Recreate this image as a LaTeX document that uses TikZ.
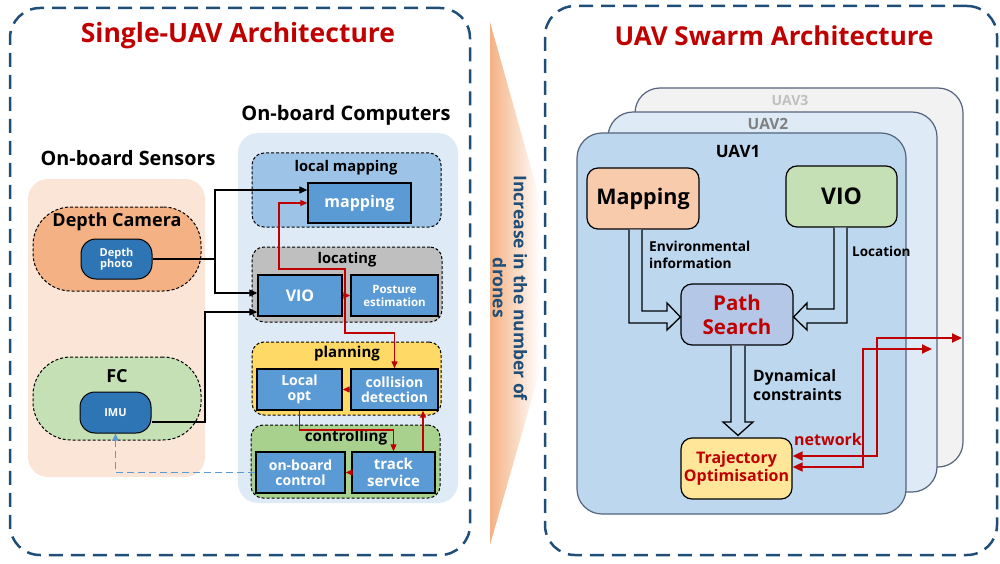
\documentclass[tikz,border=0pt]{standalone}
\usepackage{fontspec}
\setmainfont{Open Sans}
\usetikzlibrary{arrows.meta}
\definecolor{frameblue}{RGB}{31,78,121}
\definecolor{titlered}{RGB}{192,0,0}
\definecolor{peach}{RGB}{251,229,214}
\definecolor{orangef}{RGB}{244,177,131}
\definecolor{pillblue}{RGB}{46,117,182}
\definecolor{fcgreen}{RGB}{197,224,180}
\definecolor{comppanel}{RGB}{222,235,247}
\definecolor{lmapblue}{RGB}{157,195,230}
\definecolor{boxblue}{RGB}{91,155,213}
\definecolor{locgray}{RGB}{191,191,191}
\definecolor{planyellow}{RGB}{255,217,102}
\definecolor{ctrlgreen}{RGB}{169,209,142}
\definecolor{uavthree}{RGB}{242,242,242}
\definecolor{uavtwo}{RGB}{222,235,247}
\definecolor{uavone}{RGB}{189,215,238}
\definecolor{uavborder}{RGB}{84,100,125}
\definecolor{mapfill}{RGB}{248,203,173}
\definecolor{pathfill}{RGB}{180,199,231}
\definecolor{trajfill}{RGB}{255,230,153}
\definecolor{dashblue}{RGB}{91,155,213}
\begin{document}
\begin{tikzpicture}[x=1pt,y=-1pt,font=\bfseries,
  frame/.style={draw=frameblue,line width=2.5pt,dash pattern=on 14pt off 8pt,rounded corners=30pt,inner sep=0pt},
  panel/.style={draw=none,rounded corners=20pt,inner sep=0pt},
  grp/.style={draw=black,line width=1pt,dash pattern=on 3pt off 2pt,rounded corners=12pt,inner sep=0pt},
  sbox/.style={draw=black,line width=1.4pt,fill=boxblue,text=white,align=center,inner sep=0pt},
  pill/.style={draw=black,line width=1pt,fill=pillblue,text=white,align=center,rounded corners=15pt,inner sep=0pt,font=\bfseries\fontsize{11}{13}\selectfont},
  uav/.style={draw=uavborder,line width=1.2pt,rounded corners=25pt,inner sep=0pt},
  rbox/.style={draw=black,line width=1.2pt,rounded corners=11pt,align=center,inner sep=0pt},
  lbl/.style={inner sep=0pt,align=center},
  conn/.style={draw=black,line width=1.2pt},
  redc/.style={draw=titlered,line width=1.2pt,-{Triangle[length=7pt,width=6pt]}},
  blk/.style={draw=black,line width=1.3pt,fill=uavone,line join=miter},
  net/.style={draw=titlered,line width=1.8pt,{Triangle[length=10pt,width=9pt]}-{Triangle[length=10pt,width=9pt]}}
]
\useasboundingbox (0,0) rectangle (1000,564);
% frames
\node[frame,minimum width=460pt,minimum height=547pt] (lframe) at (240,281.5) {};
\node[frame,minimum width=452pt,minimum height=549pt] (rframe) at (771,280.5) {};
\node[lbl,text=titlered,font=\bfseries\fontsize{26.5}{30}\selectfont] (t1) at (238,36) {Single-UAV Architecture};
\node[lbl,text=titlered,font=\bfseries\fontsize{26}{30}\selectfont] (t2) at (774,36) {UAV Swarm Architecture};
% increase arrow
\shade[left color=orangef,right color=white] (490,22) -- (540,200) -- (540,370) -- (490,545) -- cycle;
\node[lbl,rotate=-90,text=frameblue,font=\bfseries\fontsize{17.5}{21}\selectfont] (inc) at (510,288) {Increase in the number of\\drones};
% sensors
\node[lbl,font=\bfseries\fontsize{19.8}{22}\selectfont] (senst) at (128,158) {On-board Sensors};
\node[panel,fill=peach,minimum width=177pt,minimum height=298pt] (sens) at (116.5,328) {};
\node[grp,fill=orangef,rounded corners=38pt,minimum width=168pt,minimum height=84pt] (dcam) at (117,249) {};
\node[lbl,font=\bfseries\fontsize{18}{20}\selectfont] (dcamt) at (117,222) {Depth Camera};
\node[pill,minimum width=71pt,minimum height=40pt] (dphoto) at (116.5,259) {Depth\\[-2pt]photo};
\node[grp,fill=fcgreen,rounded corners=38pt,minimum width=168pt,minimum height=83pt] (fc) at (117,398.5) {};
\node[lbl,font=\bfseries\fontsize{18}{20}\selectfont] (fct) at (117,376) {FC};
\node[pill,minimum width=71pt,minimum height=41pt] (imu) at (115.5,412.5) {IMU};
% computers
\node[lbl,font=\bfseries\fontsize{20}{22}\selectfont] (compt) at (346,115) {On-board Computers};
\node[panel,fill=comppanel,minimum width=220pt,minimum height=370pt] (comp) at (348,318) {};
\node[grp,fill=lmapblue,minimum width=189pt,minimum height=74pt] (lmap) at (346.5,190) {};
\node[lbl,font=\bfseries\fontsize{14.7}{16}\selectfont] (lmapt) at (346,168) {local mapping};
\node[sbox,minimum width=103pt,minimum height=40pt,font=\bfseries\fontsize{16}{18}\selectfont] (mapping) at (359.5,203) {mapping};
\node[grp,fill=locgray,minimum width=190pt,minimum height=75pt] (loc) at (347,284.5) {};
\node[lbl,font=\bfseries\fontsize{14.7}{16}\selectfont] (loct) at (347,260) {locating};
\node[sbox,minimum width=84pt,minimum height=41pt,font=\bfseries\fontsize{16}{18}\selectfont] (vio) at (300,295.5) {VIO};
\node[sbox,minimum width=87pt,minimum height=41pt,font=\bfseries\fontsize{11.5}{13}\selectfont] (posture) at (394.5,295.5) {Posture\\estimation};
\node[grp,fill=planyellow,minimum width=189pt,minimum height=73pt] (plan) at (346.5,378.5) {};
\node[lbl,font=\bfseries\fontsize{15}{16}\selectfont] (plant) at (347,354) {planning};
\node[sbox,minimum width=85pt,minimum height=41pt,font=\bfseries\fontsize{14}{15.5}\selectfont] (localopt) at (299.5,389.5) {Local\\opt};
\node[sbox,minimum width=87pt,minimum height=41pt,font=\bfseries\fontsize{14}{15.5}\selectfont] (collision) at (394.5,389.5) {collision\\detection};
\node[grp,fill=ctrlgreen,minimum width=189pt,minimum height=73pt] (ctrl) at (345.5,461.5) {};
\node[lbl,font=\bfseries\fontsize{15.2}{16}\selectfont] (ctrlt) at (346,438) {controlling};
\node[sbox,minimum width=89pt,minimum height=41pt,font=\bfseries\fontsize{14}{15.5}\selectfont] (onboard) at (300.5,472.5) {on-board\\control};
\node[sbox,minimum width=83pt,minimum height=41pt,font=\bfseries\fontsize{15}{16.5}\selectfont] (track) at (393.5,472.5) {track\\service};
% black connectors
\coordinate (j1) at (215,259);
\draw[conn] (dphoto.east) -- (j1);
\draw[conn,-{Triangle[length=8pt,width=7pt]}] (j1) |- ([yshift=13pt]mapping.west);
\draw[conn,-{Triangle[length=8pt,width=7pt]}] (j1) |- ([yshift=2.5pt]vio.west);
\draw[conn,-{Triangle[length=8pt,width=7pt]}] ([yshift=-9.5pt]imu.east) -- (205,422) |- ([yshift=-16.5pt]vio.west);
% red connectors
\coordinate (rj) at (345,296);
\draw[redc] (rj) -- (345,269) -- (279,269) |- (mapping.west);
\draw[redc] (rj) -- (345,333) -| (collision.north);
\draw[redc] (vio.east) -- (posture.west);
\draw[redc] (collision.west) -- (localopt.east);
\draw[redc] (localopt.south) -- (299.5,430) -| (track.north);
\draw[redc] ([xshift=29.5pt]track.north) -- ([xshift=28.5pt]collision.south);
\draw[redc] (track.west) -- (onboard.east);
% blue dashed
\draw[draw=dashblue,line width=1.2pt,dash pattern=on 7pt off 4pt,-{Triangle[length=7pt,width=6pt]}] (onboard.west) -| (imu.south);
% swarm
\node[uav,fill=uavthree,minimum width=328pt,minimum height=379pt] (u3) at (799,277.5) {};
\node[lbl,text=locgray,font=\bfseries\fontsize{14}{16}\selectfont] (u3t) at (790,101) {UAV3};
\node[uav,fill=uavtwo,minimum width=329pt,minimum height=380pt] (u2) at (772.5,302) {};
\node[lbl,text=gray,font=\bfseries\fontsize{15.5}{17}\selectfont] (u2t) at (768,124) {UAV2};
\node[uav,fill=uavone,minimum width=329pt,minimum height=381pt] (u1) at (741.5,323.5) {};
\node[lbl,font=\bfseries\fontsize{17}{18}\selectfont] (u1t) at (738,151) {UAV1};
\node[rbox,fill=mapfill,minimum width=112pt,minimum height=61pt,font=\bfseries\fontsize{21.5}{24}\selectfont] (mapR) at (643,198.5) {Mapping};
\node[rbox,fill=fcgreen,minimum width=111pt,minimum height=61pt,font=\bfseries\fontsize{23}{24}\selectfont] (vioR) at (841.5,196.5) {VIO};
\node[rbox,fill=pathfill,text=titlered,minimum width=112pt,minimum height=61pt,font=\bfseries\fontsize{20.5}{24}\selectfont] (path) at (737,314.5) {Path\\Search};
\node[rbox,fill=trajfill,text=titlered,minimum width=111pt,minimum height=61pt,font=\bfseries\fontsize{16}{18}\selectfont] (traj) at (736.5,468.5) {Trajectory\\Optimisation};
% block arrows
\draw[blk] ([xshift=-14pt]mapR.south) -- (629,323) -- (667,323) -- (667,330) -- ([yshift=-2.5pt]path.west) -- (667,303) -- (667,311) -- (642,311) -- ([xshift=-1pt]mapR.south);
\draw[blk] ([xshift=-7.5pt]vioR.south) -- (834,309) -- (807,309) -- (807,303) -- ([yshift=-2.5pt]path.east) -- (807,330) -- (807,323) -- (847,323) -- ([xshift=5.5pt]vioR.south);
\draw[blk] ([xshift=-6pt]path.south) -- (731,422) -- (723,422) -- ([xshift=1.5pt,yshift=2pt]traj.north) -- (753,422) -- (745,422) -- ([xshift=8pt]path.south);
\node[lbl,anchor=west,align=left,font=\bfseries\fontsize{13.7}{17}\selectfont] (envt) at (649,254.5) {Environmental\\information};
\node[lbl,anchor=west,font=\bfseries\fontsize{13.5}{15}\selectfont] (loct2) at (852,251) {Location};
\node[lbl,anchor=west,align=left,font=\bfseries\fontsize{15.7}{19}\selectfont] (dynt) at (753,385.5) {Dynamical\\constraints};
\node[lbl,text=titlered,font=\bfseries\fontsize{16}{17}\selectfont] (nett) at (828,439) {network};
% network arrows
\coordinate (n1) at (962,338);
\coordinate (n2) at (932,349);
\draw[net] ([yshift=12.5pt]traj.east) -- (877,456) -- (877,338) -- (n1);
\draw[net] ([yshift=1.5pt]traj.east) -- (863,467) -- (863,349) -- (n2);
\end{tikzpicture}
\end{document}
